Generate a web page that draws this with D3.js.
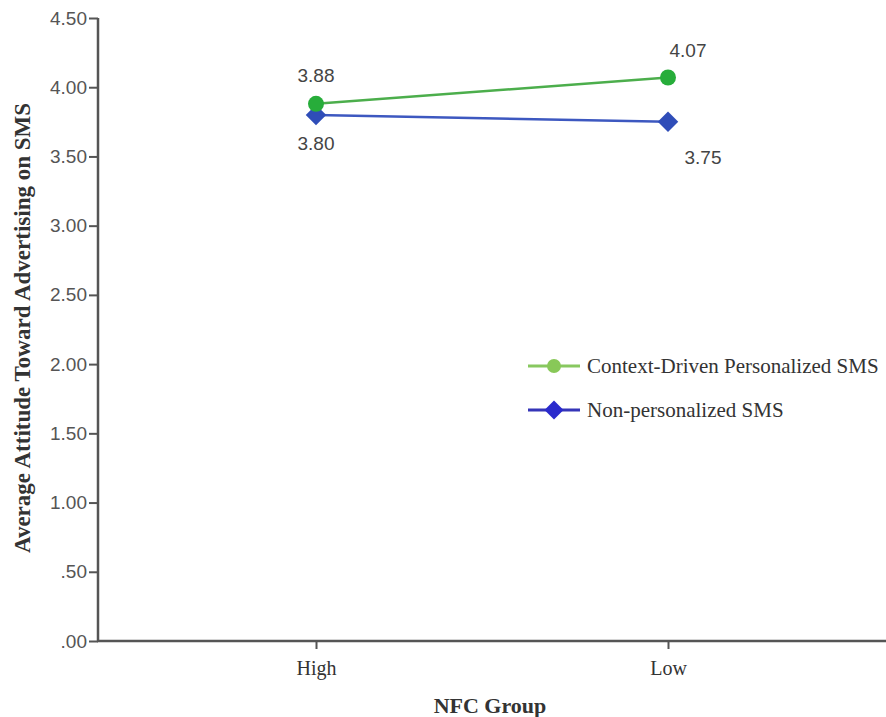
<!DOCTYPE html>
<html><head><meta charset="utf-8">
<script src="https://cdn.jsdelivr.net/npm/d3@7"></script>
<style>body{margin:0;background:#fff}svg{display:block}</style>
</head><body>
<script>
const categories = ["High", "Low"];
const seriesNames = ["Context-Driven Personalized SMS", "Non-personalized SMS"];
const personalized = [3.88, 4.07];
const nonPersonalized = [3.80, 3.75];
const yTicks = [0, 0.5, 1, 1.5, 2, 2.5, 3, 3.5, 4, 4.5];

const W = 886, H = 717;
const svg = d3.select("body").append("svg").attr("width", W).attr("height", H);

const x = d3.scalePoint().domain(categories).range([316, 668]);
const y = d3.scaleLinear().domain([0, 4.5]).range([641, 18]);

const axisColor = "#555";
// y axis
const yAxis = svg.append("g").attr("transform", "translate(98,0)")
  .call(d3.axisLeft(y).tickValues(yTicks).tickSize(9).tickPadding(2)
    .tickFormat(d => d3.format(".2f")(d).replace(/^0/, "")));
yAxis.select(".domain").attr("stroke", axisColor).attr("stroke-width", 2.5).attr("d", "M0,18V641");
yAxis.selectAll(".tick line").attr("stroke", axisColor).attr("stroke-width", 2);
yAxis.selectAll(".tick text").attr("fill", "#555").style("font-family", "Liberation Sans, Arial, sans-serif").style("font-size", "19px");

// x axis
const xAxis = svg.append("g").attr("transform", "translate(0,641)")
  .call(d3.axisBottom(x).tickSize(8).tickPadding(12));
xAxis.select(".domain").attr("stroke", axisColor).attr("stroke-width", 2.5).attr("d", "M97,0H886");
xAxis.selectAll(".tick line").attr("stroke", axisColor).attr("stroke-width", 2);
xAxis.selectAll(".tick text").attr("fill", "#333").style("font-family", "Liberation Serif, Times New Roman, serif").style("font-size", "20px");

// titles
svg.append("text").attr("x", 490).attr("y", 713).attr("text-anchor", "middle")
  .style("font-family", "Liberation Serif, serif").style("font-weight", "bold").style("font-size", "22px").attr("fill", "#333")
  .text("NFC Group");
svg.append("text").attr("transform", "translate(30,328) rotate(-90)").attr("text-anchor", "middle")
  .style("font-family", "Liberation Serif, serif").style("font-weight", "bold").style("font-size", "23px").attr("fill", "#333")
  .text("Average Attitude Toward Advertising on SMS");

const line = d3.line().x((d, i) => x(categories[i])).y(d => y(d));

// series
svg.append("path").datum(personalized).attr("d", line).attr("fill", "none").attr("stroke", "#4cae4c").attr("stroke-width", 2.5);
svg.append("path").datum(nonPersonalized).attr("d", line).attr("fill", "none").attr("stroke", "#3d58c0").attr("stroke-width", 2.5);

svg.selectAll(".dia").data(nonPersonalized).enter().append("path")
  .attr("d", d3.symbol().type(d3.symbolSquare).size(210)())
  .attr("transform", (d, i) => `translate(${x(categories[i])},${y(d)}) rotate(45)`)
  .attr("fill", "#2f4db8");
svg.selectAll(".cir").data(personalized).enter().append("circle")
  .attr("cx", (d, i) => x(categories[i])).attr("cy", d => y(d)).attr("r", 8)
  .attr("fill", "#27ad3a");

// data labels
const lblStyle = sel => sel.style("font-family", "Liberation Sans, Arial, sans-serif").style("font-size", "19px").attr("fill", "#444");
const pOff = [[0, -22], [20, -21]];
const nOff = [[0, 35], [35, 42]];
svg.selectAll(".pl").data(personalized).enter().append("text")
  .attr("x", (d, i) => x(categories[i]) + pOff[i][0]).attr("y", (d, i) => y(d) + pOff[i][1])
  .attr("text-anchor", "middle").text(d => d.toFixed(2)).call(lblStyle);
svg.selectAll(".nl").data(nonPersonalized).enter().append("text")
  .attr("x", (d, i) => x(categories[i]) + nOff[i][0]).attr("y", (d, i) => y(d) + nOff[i][1])
  .attr("text-anchor", "middle").text(d => d.toFixed(2)).call(lblStyle);

// legend
const leg = svg.append("g");
const legColors = [["#88c860", "#88c858"], ["#3535b8", "#2a2acc"]];
seriesNames.forEach((name, i) => {
  const ly = 366 + i * 44;
  leg.append("line").attr("x1", 528).attr("x2", 580).attr("y1", ly).attr("y2", ly)
    .attr("stroke", legColors[i][0]).attr("stroke-width", 3);
  if (i === 0) {
    leg.append("circle").attr("cx", 554).attr("cy", ly).attr("r", 7).attr("fill", legColors[i][1]);
  } else {
    leg.append("path").attr("d", d3.symbol().type(d3.symbolSquare).size(180)())
      .attr("transform", `translate(554,${ly}) rotate(45)`).attr("fill", legColors[i][1]);
  }
  leg.append("text").attr("x", 587).attr("y", ly + 7).text(name)
    .style("font-family", "Liberation Serif, serif").style("font-size", "21px").attr("fill", "#333");
});
</script>
</body></html>
